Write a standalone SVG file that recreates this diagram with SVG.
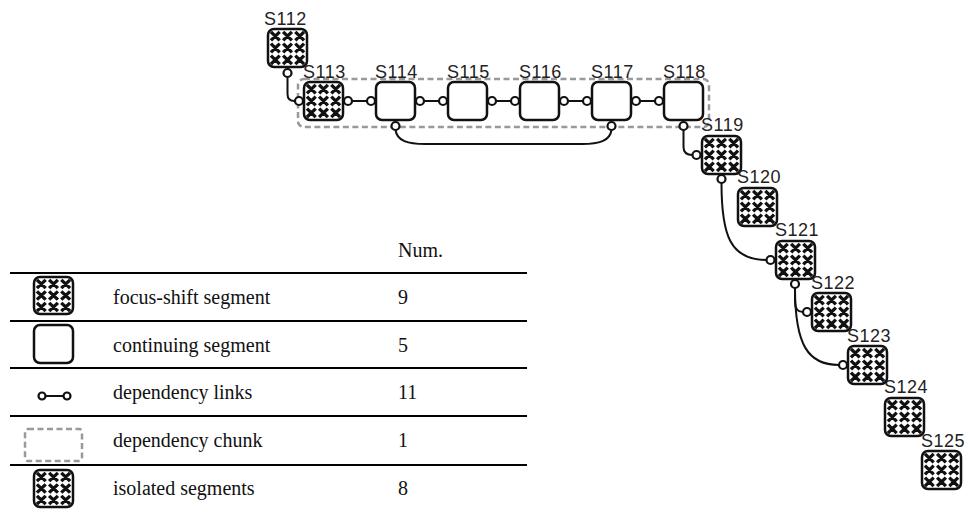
<svg xmlns="http://www.w3.org/2000/svg" width="968" height="511" viewBox="0 0 968 511">
<defs>
<pattern id="xp" patternUnits="objectBoundingBox" width="1" height="1" viewBox="0 0 40 40" preserveAspectRatio="none">
<rect width="40" height="40" fill="#fff"/>
<path d="M3,3l9,9m0,-9l-9,9M15.5,3l9,9m0,-9l-9,9M28,3l9,9m0,-9l-9,9M3,15.5l9,9m0,-9l-9,9M15.5,15.5l9,9m0,-9l-9,9M28,15.5l9,9m0,-9l-9,9M3,28l9,9m0,-9l-9,9M15.5,28l9,9m0,-9l-9,9M28,28l9,9m0,-9l-9,9" stroke="#111" stroke-width="3.4" fill="none"/>
</pattern>
</defs>
<style>
.seg{stroke:#111;stroke-width:2.5}
.fs{fill:url(#xp)}
.cont{fill:#fff}
.lbl{font-family:"Liberation Sans",Arial,sans-serif;font-size:18px;fill:#222;letter-spacing:0.5px}
.dot{fill:#fff;stroke:#111;stroke-width:2.2}
.link{fill:none;stroke:#111;stroke-width:2}
.chunk{fill:none;stroke:#999;stroke-width:2.5;stroke-dasharray:6 3.5}
.tx{font-family:"Liberation Serif","Times New Roman",serif;font-size:20px;fill:#111}
.rule{stroke:#000;stroke-width:2}
</style>
<rect id="chunk" class="chunk" x="298" y="79" width="411" height="48" rx="6"/>
<g id="S112"><rect class="seg fs" x="268" y="29" width="39" height="38" rx="6"/><text class="lbl" x="264" y="25">S112</text></g>
<g id="S113"><rect class="seg fs" x="304" y="82" width="39" height="38" rx="6"/><text class="lbl" x="303" y="78">S113</text></g>
<g id="S114"><rect class="seg cont" x="376" y="82" width="39" height="38" rx="6"/><text class="lbl" x="375" y="78">S114</text></g>
<g id="S115"><rect class="seg cont" x="448" y="82" width="39" height="38" rx="6"/><text class="lbl" x="447" y="78">S115</text></g>
<g id="S116"><rect class="seg cont" x="520" y="82" width="39" height="38" rx="6"/><text class="lbl" x="519" y="78">S116</text></g>
<g id="S117"><rect class="seg cont" x="592" y="82" width="39" height="38" rx="6"/><text class="lbl" x="591" y="78">S117</text></g>
<g id="S118"><rect class="seg cont" x="664" y="82" width="39" height="38" rx="6"/><text class="lbl" x="663" y="78">S118</text></g>
<g id="S119"><rect class="seg fs" x="702" y="136" width="39" height="38" rx="6"/><text class="lbl" x="701" y="131">S119</text></g>
<g id="S120"><rect class="seg fs" x="738" y="188" width="39" height="38" rx="6"/><text class="lbl" x="737" y="183">S120</text></g>
<g id="S121"><rect class="seg fs" x="776" y="241" width="39" height="38" rx="6"/><text class="lbl" x="775" y="236">S121</text></g>
<g id="S122"><rect class="seg fs" x="812" y="293" width="39" height="38" rx="6"/><text class="lbl" x="811" y="289">S122</text></g>
<g id="S123"><rect class="seg fs" x="848" y="346" width="39" height="38" rx="6"/><text class="lbl" x="847" y="342">S123</text></g>
<g id="S124"><rect class="seg fs" x="885" y="398" width="39" height="38" rx="6"/><text class="lbl" x="884" y="393">S124</text></g>
<g id="S125"><rect class="seg fs" x="922" y="451" width="39" height="38" rx="6"/><text class="lbl" x="921" y="447">S125</text></g>
<g id="connectors">
<path class="link" d="M287.5,77 V94 Q287.5,101 294.5,101"/>
<path class="link" d="M352,101 H367"/>
<path class="link" d="M424,101 H439"/>
<path class="link" d="M496,101 H511"/>
<path class="link" d="M568,101 H583"/>
<path class="link" d="M640,101 H655"/>
<path class="link" d="M395.5,130 C397,141 408,144 425,144 L582,144 C599,144 610,141 611.5,130"/>
<path class="link" d="M683.5,130 V147 Q683.5,155 692.5,155"/>
<path class="link" d="M721.5,183 C721.5,235 730,260 766.5,260"/>
<path class="link" d="M795,288 V302 Q795,312 803,312"/>
<path class="link" d="M795,288 C795,345 808,365 839,365"/>
<circle class="dot" cx="287.5" cy="73" r="4"/>
<circle class="dot" cx="299" cy="101" r="4"/>
<circle class="dot" cx="348" cy="101" r="4"/>
<circle class="dot" cx="371" cy="101" r="4"/>
<circle class="dot" cx="420" cy="101" r="4"/>
<circle class="dot" cx="443" cy="101" r="4"/>
<circle class="dot" cx="492" cy="101" r="4"/>
<circle class="dot" cx="515" cy="101" r="4"/>
<circle class="dot" cx="564" cy="101" r="4"/>
<circle class="dot" cx="587" cy="101" r="4"/>
<circle class="dot" cx="636" cy="101" r="4"/>
<circle class="dot" cx="659" cy="101" r="4"/>
<circle class="dot" cx="395.5" cy="126" r="4"/>
<circle class="dot" cx="611.5" cy="126" r="4"/>
<circle class="dot" cx="683.5" cy="126" r="4"/>
<circle class="dot" cx="696.5" cy="155" r="4"/>
<circle class="dot" cx="721.5" cy="179" r="4"/>
<circle class="dot" cx="770.5" cy="260" r="4"/>
<circle class="dot" cx="795" cy="284" r="4"/>
<circle class="dot" cx="807" cy="312" r="4"/>
<circle class="dot" cx="843" cy="365" r="4"/>
</g>
<g id="legend">
<text class="tx" x="398" y="257">Num.</text>
<line class="rule" x1="10" y1="273" x2="527" y2="273"/>
<line class="rule" x1="10" y1="321" x2="527" y2="321"/>
<line class="rule" x1="10" y1="368" x2="527" y2="368"/>
<line class="rule" x1="10" y1="416" x2="527" y2="416"/>
<line class="rule" x1="10" y1="465" x2="527" y2="465"/>
<rect class="seg fs" x="34" y="277" width="39" height="37" rx="6"/>
<text class="tx" x="113" y="304">focus-shift segment</text><text class="tx" x="398" y="304">9</text>
<rect class="seg cont" x="34" y="325" width="39" height="38" rx="6"/>
<text class="tx" x="113" y="352">continuing segment</text><text class="tx" x="398" y="352">5</text>
<line class="link" x1="42" y1="396" x2="67" y2="396"/>
<circle class="dot" cx="42" cy="396" r="3.5"/><circle class="dot" cx="67" cy="396" r="3.5"/>
<text class="tx" x="113" y="399">dependency links</text><text class="tx" x="398" y="399">11</text>
<rect class="chunk" x="25" y="429" width="57" height="32" rx="3"/>
<text class="tx" x="113" y="447">dependency chunk</text><text class="tx" x="398" y="447">1</text>
<rect class="seg fs" x="34" y="470" width="39" height="37" rx="6"/>
<text class="tx" x="113" y="495">isolated segments</text><text class="tx" x="398" y="495">8</text>
</g>
</svg>
